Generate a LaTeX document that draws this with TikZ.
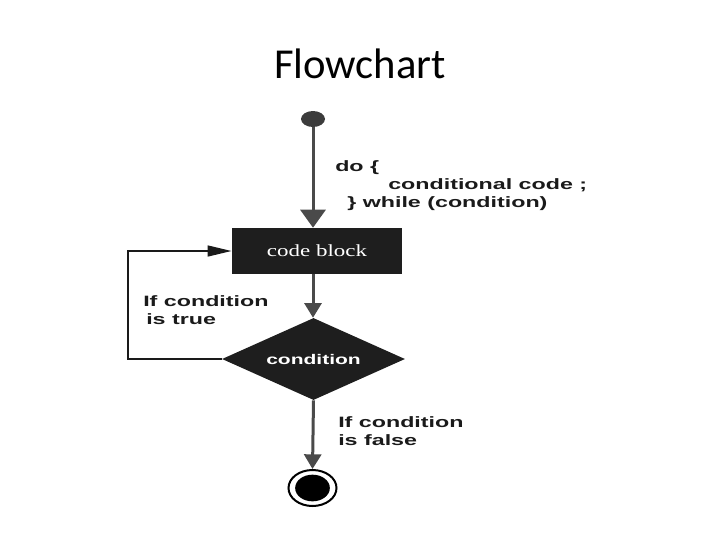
\documentclass[tikz,border=0pt]{standalone}
\usepackage{fontspec}
\setmainfont{Liberation Serif}
\setsansfont{Liberation Sans}
\newfontfamily\titlefont{Carlito}
\usepackage{graphicx}
\usetikzlibrary{arrows.meta,shapes.geometric}
\definecolor{boxfill}{HTML}{1E1E1E}
\definecolor{startfill}{HTML}{3C3C3C}
\definecolor{flowline}{HTML}{4A4A4A}
\definecolor{textdark}{HTML}{1A1A1A}
\newcommand{\widetext}[1]{\scalebox{1.55}[1]{#1}}
\tikzset{
  titlestyle/.style={font=\titlefont\fontsize{32pt}{38pt}\selectfont, text=black, inner sep=0pt},
  startnode/.style={ellipse, fill=startfill, minimum width=18pt, minimum height=12pt, inner sep=0pt},
  codebox/.style={rectangle, fill=boxfill, text=white, minimum width=127.5pt, minimum height=34.5pt, inner sep=0pt,
    font=\rmfamily\fontsize{12.75pt}{15pt}\selectfont},
  condnode/.style={diamond, shape aspect=2.23, fill=boxfill, text=white, minimum width=137.25pt, minimum height=61.5pt, inner sep=0pt,
    font=\sffamily\bfseries\fontsize{10.5pt}{12pt}\selectfont},
  endouter/.style={ellipse, draw=black, line width=1.5pt, fill=white, minimum width=36pt, minimum height=27pt, inner sep=0pt},
  endinner/.style={ellipse, fill=black, minimum width=26pt, minimum height=20pt, inner sep=0pt},
  lbl/.style={anchor=base west, inner sep=0pt, text=textdark, font=\sffamily\bfseries\fontsize{11.25pt}{13pt}\selectfont},
  bigarrow/.style={draw=flowline, line width=2.25pt, -{Triangle[length=13.5pt, width=18.75pt]}},
  midarrow/.style={draw=flowline, line width=2.25pt, -{Triangle[length=11pt, width=12.75pt]}},
  looparrow/.style={draw=textdark, line width=1.7pt, -{Triangle[length=18pt, width=8pt]}}
}
\begin{document}
\begin{tikzpicture}[x=0.75pt, y=-0.75pt]
\useasboundingbox[fill=white] (0,0) rectangle (720,540);

\node[titlestyle, anchor=base] (title) at (360,78) {Flowchart};

\node[startnode] (start) at (313,119) {};
\node[codebox] (code) at (317,251) {\scalebox{1.35}[1]{code block}};
\node[condnode] (cond) at (313.5,359) {\scalebox{1.5}[1]{condition}};
\node[endouter] (end) at (312.5,488) {};
\node[endinner] (endin) at (312.5,488) {};

\node[lbl] (dolbl) at (335,171) {\widetext{do \{}};
\node[lbl] (codelbl) at (388,189) {\widetext{conditional code ;}};
\node[lbl] (whilelbl) at (347,207) {\widetext{\} while (condition)}};
\node[lbl] (truelbla) at (143,306) {\widetext{If condition}};
\node[lbl] (truelblb) at (146,324) {\widetext{is true}};
\node[lbl] (falselbla) at (338,427) {\widetext{If condition}};
\node[lbl] (falselblb) at (338,445) {\widetext{is false}};

\draw[bigarrow] (start) -- (start |- code.north);
\draw[midarrow] (start |- code.south) -- (start |- cond.north);
\draw[midarrow] (cond.south) -- (end.north);
\draw[looparrow] (cond.west) -- ++(-94,0) |- (code.west);
\end{tikzpicture}
\end{document}
